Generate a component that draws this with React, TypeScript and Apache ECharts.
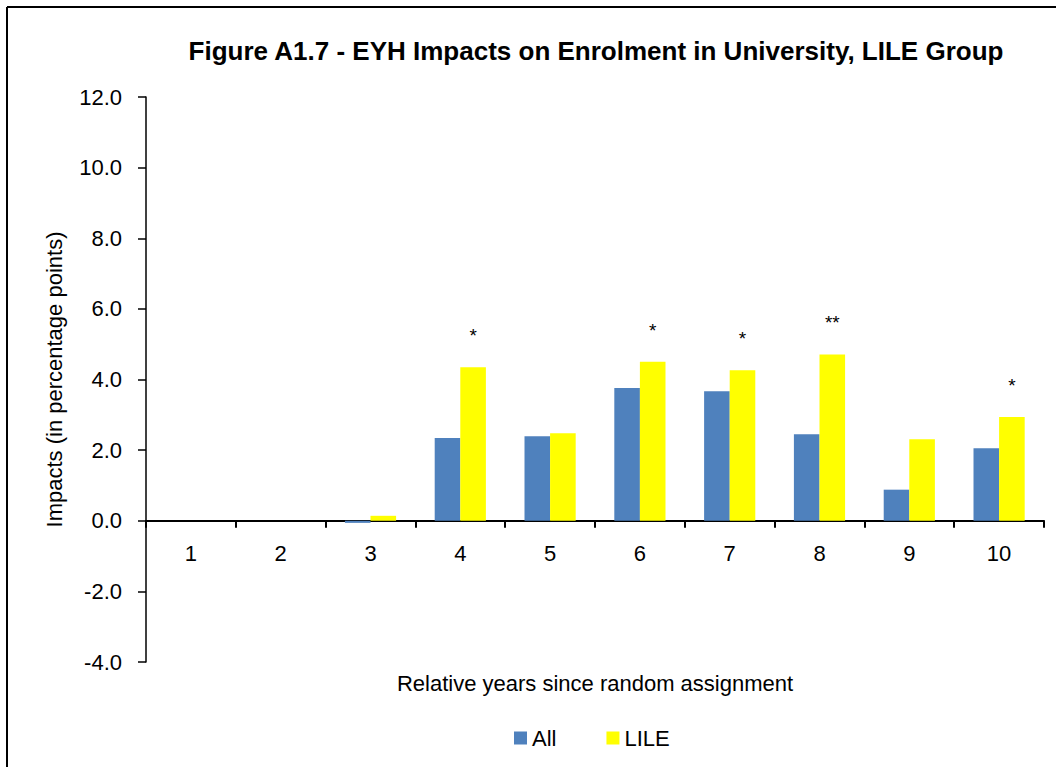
import React, { useEffect, useRef } from "react";
import * as echarts from "echarts";

const categories = ["1", "2", "3", "4", "5", "6", "7", "8", "9", "10"];
const allValues = [null, null, -0.06, 2.34, 2.39, 3.76, 3.67, 2.45, 0.88, 2.05];
const lileValues = [null, null, 0.14, 4.35, 2.48, 4.5, 4.26, 4.71, 2.31, 2.94];
const significance = ["", "", "", "*", "", "*", "*", "**", "", "*"];
const yTicks = { min: -4, max: 12, interval: 2 };

const FONT = "'Liberation Sans Narrow', 'Arial Narrow', 'Liberation Sans', Arial, sans-serif";

const GRID_TOP = 97;
const GRID_BOTTOM = 105;
const CHART_H = 767;

export default function App() {
  const ref = useRef<HTMLDivElement>(null);
  useEffect(() => {
    if (!ref.current) return;
    const chart = echarts.init(ref.current, null, { renderer: "svg" });
    const plotH = CHART_H - GRID_TOP - GRID_BOTTOM;
    // distance from the grid's bottom edge up to the zero line
    const zeroOffset = (plotH * (0 - yTicks.min)) / (yTicks.max - yTicks.min);
    chart.setOption({
      animation: false,
      backgroundColor: "#fff",
      textStyle: { fontFamily: FONT, color: "#000" },
      graphic: [
        { type: "line", shape: { x1: 7, y1: 7, x2: 1056, y2: 7 }, style: { stroke: "#000", lineWidth: 2 } },
        { type: "line", shape: { x1: 7, y1: 7, x2: 7, y2: 767 }, style: { stroke: "#000", lineWidth: 2 } },
        {
          type: "text",
          x: 596,
          y: 51,
          style: {
            text: "Figure A1.7 - EYH Impacts on Enrolment in University, LILE Group",
            font: `bold 26px ${FONT}`,
            fill: "#000",
            textAlign: "center",
            textVerticalAlign: "middle",
          },
        },
      ],
      grid: { left: 146, right: 12, top: GRID_TOP, bottom: GRID_BOTTOM, containLabel: false, outerBoundsMode: "none" },
      legend: {
        left: 509,
        top: 722,
        itemWidth: 13,
        itemHeight: 13,
        itemGap: 50,
        icon: "rect",
        textStyle: { fontFamily: FONT, fontSize: 22, color: "#000" },
        data: ["All", "LILE"],
      },
      xAxis: {
        type: "category",
        data: categories,
        position: "bottom",
        offset: -zeroOffset,
        name: "Relative years since random assignment",
        nameLocation: "middle",
        nameGap: 152,
        nameTextStyle: { fontFamily: FONT, fontSize: 22, color: "#000" },
        axisLine: { onZero: false, lineStyle: { color: "#000", width: 2 } },
        axisTick: { show: true, length: 7, lineStyle: { color: "#000", width: 2 } },
        axisLabel: { margin: 22, fontFamily: FONT, fontSize: 22, color: "#000" },
      },
      yAxis: {
        type: "value",
        min: yTicks.min,
        max: yTicks.max,
        interval: yTicks.interval,
        name: "Impacts (in percentage points)",
        nameLocation: "middle",
        nameGap: 81,
        nameTextStyle: { fontFamily: FONT, fontSize: 22, color: "#000" },
        axisLine: { show: true, lineStyle: { color: "#000", width: 1.5 } },
        axisTick: { show: true, length: 8, lineStyle: { color: "#000", width: 1.5 } },
        axisLabel: {
          margin: 24,
          fontFamily: FONT,
          fontSize: 22,
          color: "#000",
          formatter: (v: number) => v.toFixed(1),
        },
        splitLine: { show: false },
      },
      series: [
        {
          name: "All",
          type: "bar",
          data: allValues,
          itemStyle: { color: "#4F81BD" },
          barGap: "0%",
          barCategoryGap: "43%",
        },
        {
          name: "LILE",
          type: "bar",
          data: lileValues,
          itemStyle: { color: "#FFFF00" },
          barGap: "0%",
          barCategoryGap: "43%",
          label: {
            show: true,
            position: "top",
            distance: 22,
            fontFamily: "'Liberation Sans', Arial, sans-serif",
            fontSize: 19,
            color: "#000",
            formatter: (p: any) => significance[p.dataIndex] || "",
          },
        },
      ],
    });
    return () => chart.dispose();
  }, []);
  return (
    <div
      ref={ref}
      style={{ position: "fixed", left: 0, top: 0, width: 1056, height: 767, background: "#fff" }}
    />
  );
}
